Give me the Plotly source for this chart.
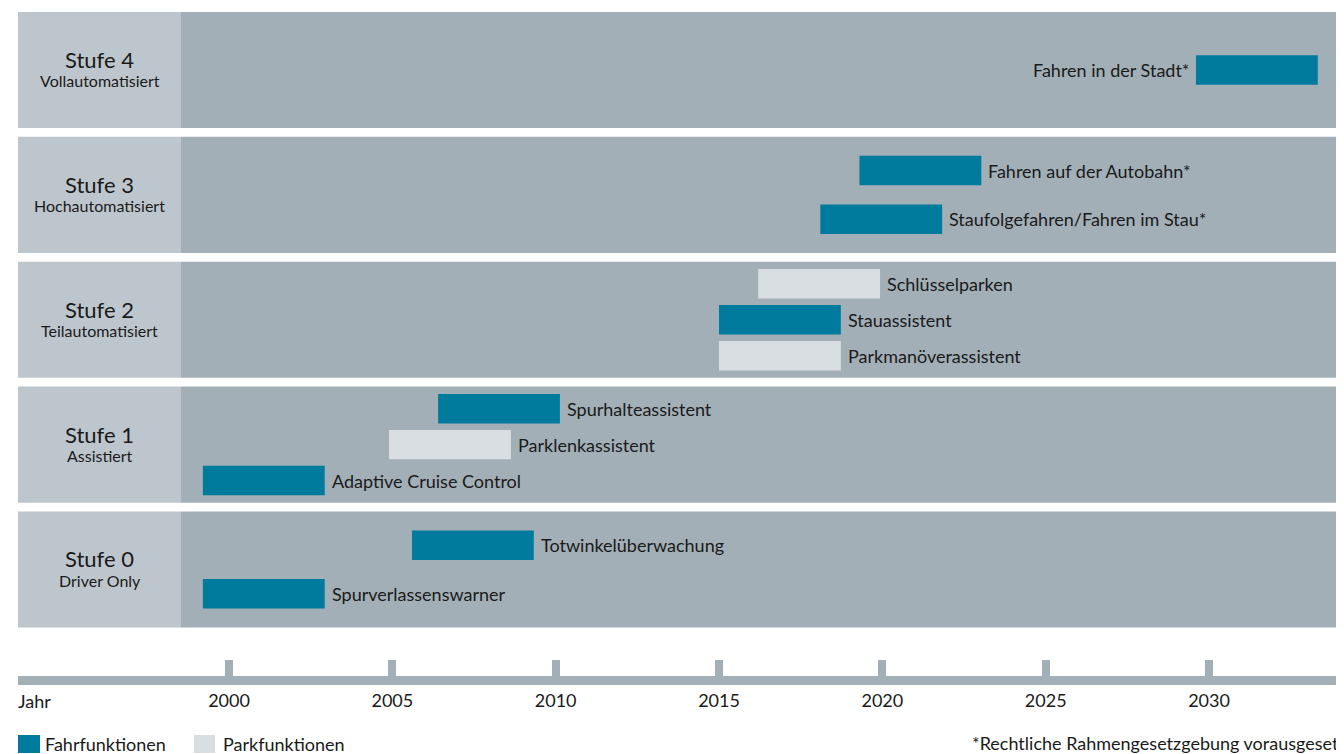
import plotly.graph_objects as go

# ---------------- data ----------------
level_ids = [4, 3, 2, 1, 0]
level_titles = ["Stufe 4", "Stufe 3", "Stufe 2", "Stufe 1", "Stufe 0"]
level_subtitles = ["Vollautomatisiert", "Hochautomatisiert", "Teilautomatisiert",
                   "Assistiert", "Driver Only"]

features = ["Fahren in der Stadt*",
            "Fahren auf der Autobahn*", "Staufolgefahren/Fahren im Stau*",
            "Schlüsselparken", "Stauassistent", "Parkmanöverassistent",
            "Spurhalteassistent", "Parklenkassistent", "Adaptive Cruise Control",
            "Totwinkelüberwachung", "Spurverlassenswarner"]
feature_level = [4, 3, 3, 2, 2, 2, 1, 1, 1, 0, 0]
feature_start = [2029.6, 2019.3, 2018.1, 2016.2, 2015.0, 2015.0,
                 2006.4, 2004.9, 1999.2, 2005.6, 1999.2]
feature_kind = ["Fahr", "Fahr", "Fahr", "Park", "Fahr", "Park",
                "Fahr", "Park", "Fahr", "Fahr", "Fahr"]
feature_duration = [3.73] * len(features)
label_left = [True] + [False] * (len(features) - 1)

year_ticks = [2000, 2005, 2010, 2015, 2020, 2025, 2030]
legend_names = ["Fahrfunktionen", "Parkfunktionen"]
footnote = "*Rechtliche Rahmengesetzgebung vorausgesetzt"

# ---------------- style ----------------
C_LEFT = "#bec6cd"
C_MAIN = "#a2afb7"
C_FAHR = "#007b9e"
C_PARK = "#d9dee2"
C_TEXT = "#1a1a1a"
FONT = "Lato"
kind_color = {"Fahr": C_FAHR, "Park": C_PARK}

OFF = 8                      # page body margin
SW, SH = 1344, 754           # screen size
W, H = SW - OFF, SH - OFF    # figure size
PLOT_L_S, PLOT_B_S = 18, 676  # plot area edges in screen pixels
ML = PLOT_L_S - OFF
MB = SH - PLOT_B_S
PLOT_H = H - MB
BAND_HALF = 0.4645
row_spacing = {1: 0.0, 2: 0.39, 3: 0.288}

# y positions of rows inside each level band
counts = {l: feature_level.count(l) for l in level_ids}
seen = {l: 0 for l in level_ids}
feature_y = []
for lv in feature_level:
    n = counts[lv]
    i = seen[lv]
    seen[lv] += 1
    feature_y.append(lv + ((n - 1) / 2 - i) * row_spacing[n])

fig = go.Figure()

for kind in ["Fahr", "Park"]:
    idx = [i for i, k in enumerate(feature_kind) if k == kind]
    fig.add_trace(go.Bar(
        orientation="h",
        y=[feature_y[i] for i in idx],
        x=[feature_duration[i] for i in idx],
        base=[feature_start[i] for i in idx],
        width=0.236,
        marker=dict(color=kind_color[kind], line=dict(width=0)),
        showlegend=False,
        hoverinfo="skip",
    ))


def px(p):
    """screen x pixel -> paper"""
    return (p - PLOT_L_S) / (W - ML)


def py(p):
    """screen y pixel -> paper"""
    return (PLOT_B_S - p) / PLOT_H


shapes = []
annotations = []
left_edge = px(181)
for lv, t, s in zip(level_ids, level_titles, level_subtitles):
    shapes.append(dict(type="rect", xref="paper", yref="y", x0=0, x1=left_edge,
                       y0=lv - BAND_HALF, y1=lv + BAND_HALF, fillcolor=C_LEFT,
                       line=dict(width=0), layer="below"))
    shapes.append(dict(type="rect", xref="paper", yref="y", x0=left_edge, x1=1,
                       y0=lv - BAND_HALF, y1=lv + BAND_HALF, fillcolor=C_MAIN,
                       line=dict(width=0), layer="below"))
    annotations.append(dict(text=t, xref="paper", yref="y", x=left_edge / 2, y=lv + 0.085,
                            xanchor="center", yanchor="middle", showarrow=False,
                            font=dict(family=FONT, size=22, color=C_TEXT)))
    annotations.append(dict(text=s, xref="paper", yref="y", x=left_edge / 2, y=lv - 0.085,
                            xanchor="center", yanchor="middle", showarrow=False,
                            font=dict(family=FONT, size=16, color=C_TEXT)))

for f, st, du, yy, lft in zip(features, feature_start, feature_duration, feature_y, label_left):
    if lft:
        annotations.append(dict(text=f, x=st, y=yy, xref="x", yref="y", xanchor="right",
                                yanchor="middle", xshift=-4, showarrow=False,
                                font=dict(family=FONT, size=18, color=C_TEXT)))
    else:
        annotations.append(dict(text=f, x=st + du, y=yy, xref="x", yref="y", xanchor="left",
                                yanchor="middle", xshift=5, showarrow=False,
                                font=dict(family=FONT, size=18, color=C_TEXT)))

# Jahr label
annotations.append(dict(text="Jahr", xref="paper", yref="paper", x=px(18), y=py(701),
                        xanchor="left", yanchor="middle", showarrow=False, xshift=-2,
                        font=dict(family=FONT, size=18, color=C_TEXT)))

# legend
for name, kind, x0, x1, xt in [(legend_names[0], "Fahr", 18, 40, 45),
                               (legend_names[1], "Park", 194, 215, 223)]:
    shapes.append(dict(type="rect", xref="paper", yref="paper", x0=px(x0), x1=px(x1),
                       y0=py(753), y1=py(735), fillcolor=kind_color[kind],
                       line=dict(width=0)))
    annotations.append(dict(text=name, xref="paper", yref="paper", x=px(xt), y=py(744),
                            xanchor="left", yanchor="middle", showarrow=False, xshift=-2,
                            font=dict(family=FONT, size=18, color=C_TEXT)))

annotations.append(dict(text=footnote, xref="paper", yref="paper", x=px(972), y=py(743),
                        xanchor="left", yanchor="middle", showarrow=False, xshift=-2,
                        font=dict(family=FONT, size=18, color=C_TEXT)))

# axis ranges derived from the reference scale (screen px)
PX_PER_YEAR = 32.667
X2000_S = 229
x0_year = 2000 + (PLOT_L_S - X2000_S) / PX_PER_YEAR
x1_year = 2000 + (SW - X2000_S) / PX_PER_YEAR
LEVEL0_S, PX_PER_LEVEL = 569.5, 124.875
y_bottom = (LEVEL0_S - PLOT_B_S) / PX_PER_LEVEL
y_top = (LEVEL0_S - OFF) / PX_PER_LEVEL

fig.update_layout(
    width=W, height=H, autosize=False,
    margin=dict(l=ML, r=0, t=0, b=MB),
    paper_bgcolor="white", plot_bgcolor="white",
    barmode="overlay",
    shapes=shapes, annotations=annotations,
    xaxis=dict(range=[x0_year, x1_year], tickvals=year_ticks,
               ticktext=[str(y) for y in year_ticks],
               ticks="inside", ticklen=16, tickwidth=8, tickcolor=C_MAIN,
               showline=True, linewidth=9, linecolor=C_MAIN,
               showgrid=False, zeroline=False, fixedrange=True,
               tickfont=dict(family=FONT, size=18, color=C_TEXT)),
    yaxis=dict(range=[y_bottom, y_top], visible=False, showgrid=False,
               zeroline=False, fixedrange=True),
    font=dict(family=FONT, color=C_TEXT),
)

fig.write_html("out.html")
